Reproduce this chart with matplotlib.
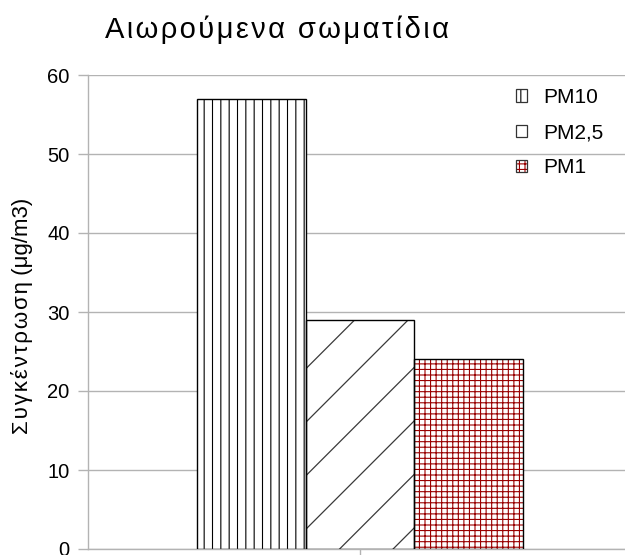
import matplotlib
matplotlib.use("Agg")
import matplotlib.pyplot as plt
from matplotlib.patches import Patch
from matplotlib.lines import Line2D
from matplotlib.transforms import IdentityTransform
from matplotlib.legend_handler import HandlerTuple

# Particulate matter concentrations (μg/m3)
series = ["PM10", "PM2,5", "PM1"]
values = [57, 29, 24]
y_ticks = [0, 10, 20, 30, 40, 50, 60]

title_text = "Αιωρούμενα σωματίδια"
ylabel_greek = "Συγκέντρωση"
ylabel_unit = "(μg/m3)"

HAIR = "\u200a"
def spaced(s):
    return HAIR.join(s)

plt.rcParams["font.family"] = ["Liberation Sans", "DejaVu Sans"]
plt.rcParams["hatch.linewidth"] = 0.8

W, H, DPI = 625, 555, 100
fig = plt.figure(figsize=(W / DPI, H / DPI), dpi=DPI)
ax = fig.add_axes([88 / W, 6 / H, 544 / W, 474 / H])

grid_c = "#b3b3b3"
ax.set_xlim(-0.5, 0.5)
ax.set_ylim(0, 60)
ax.set_yticks(y_ticks)
ax.set_xticks([0])
ax.set_xticklabels([""])
ax.yaxis.grid(True, color=grid_c, linewidth=1.0)
ax.set_axisbelow(True)
for side in ("top", "right"):
    ax.spines[side].set_visible(False)
for side in ("left", "bottom"):
    ax.spines[side].set_color(grid_c)
    ax.spines[side].set_linewidth(1.0)
ax.tick_params(axis="y", length=7.2, width=1.0, color=grid_c, labelsize=14.5, pad=6)
ax.tick_params(axis="x", length=5, width=1.0, color=grid_c)

bar_w = 0.2
offsets = [-bar_w, 0.0, bar_w]
hatches = ["||", None, "+++"]
hatch_colors = ["black", None, "#990000"]

bars = []
for off, v, h, hc in zip(offsets, values, hatches, hatch_colors):
    if h is not None:
        ax.bar(off, v, width=bar_w, color="white", edgecolor=hc, linewidth=0,
               hatch=h, zorder=2)
    else:
        ax.bar(off, v, width=bar_w, color="white", linewidth=0, zorder=2)
    b = ax.bar(off, v, width=bar_w, fill=False, edgecolor="black",
               linewidth=1.0, zorder=4)
    bars.append(b[0])

# Wide diagonal hatching on the PM2,5 bar, drawn in pixel space
patch = bars[1]
x0, y0 = ax.transData.transform((offsets[1] - bar_w / 2, 0))
x1, y1 = ax.transData.transform((offsets[1] + bar_w / 2, values[1]))
step = 53.5
c = x0 + 34
while c + (y1 - y0) > x0:
    c -= step
c += step
while c < x1:
    ln = Line2D([c, c + (y1 - y0)], [y0, y1], transform=IdentityTransform(),
                color="#3a3a3a", linewidth=0.9, zorder=3)
    ax.add_line(ln)
    ln.set_clip_path(patch)
    c += step

# Legend
handles = [
    (Patch(facecolor="white", edgecolor="black", linewidth=0, hatch="||"),
     Patch(fill=False, edgecolor="#333333", linewidth=0.9)),
    (Patch(facecolor="white", linewidth=0),
     Patch(fill=False, edgecolor="#333333", linewidth=0.9)),
    (Patch(facecolor="white", edgecolor="#990000", linewidth=0, hatch="+++"),
     Patch(fill=False, edgecolor="#333333", linewidth=0.9)),
]
leg = fig.legend(handles, series, loc="upper left", bbox_to_anchor=(516 / W, 1 - 88 / H),
                 frameon=False, fontsize=15, handlelength=0.55, handleheight=0.55,
                 handletextpad=0.75, labelspacing=0.78, borderpad=0, borderaxespad=0,
                 handler_map={tuple: HandlerTuple(ndivide=1, pad=0)})

fig.text(277 / W, 1 - 30 / H, spaced(title_text), ha="center", va="center",
         fontsize=21)
fig.text(22 / W, 1 - 316 / H, spaced(ylabel_greek) + " " + ylabel_unit,
         rotation=90, ha="center", va="center", fontsize=16)

fig.savefig("out.png", dpi=DPI)
